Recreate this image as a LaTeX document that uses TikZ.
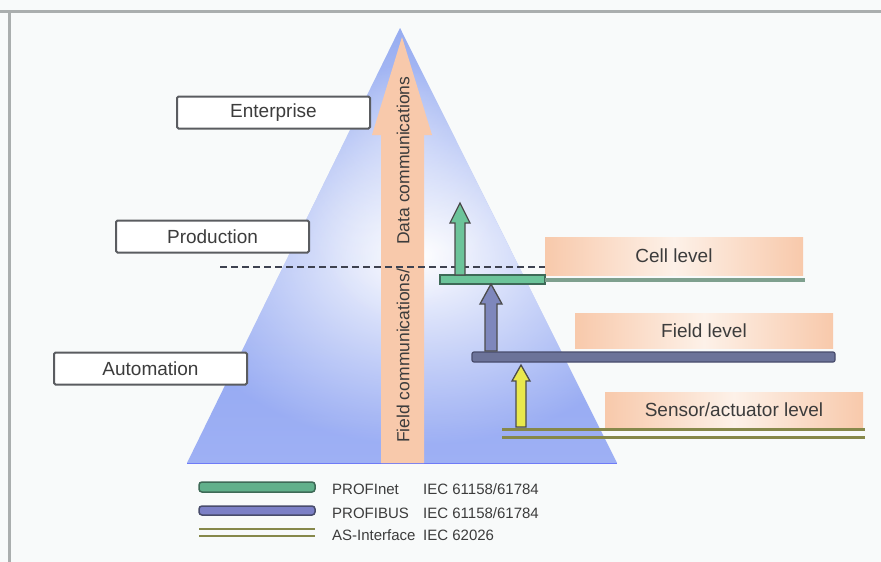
\documentclass[tikz,border=0pt]{standalone}
\usepackage{fontspec}
\setmainfont{Liberation Sans}
\usetikzlibrary{fadings,calc}
\tikzfading[name=glowfade, inner color=transparent!0, outer color=transparent!100]
\definecolor{bgcol}{HTML}{F8FAFA}
\definecolor{bordercol}{HTML}{AAAEAE}
\definecolor{pyrtop}{HTML}{7D98EE}
\definecolor{pyrbot}{HTML}{9EB0F4}
\definecolor{peach}{HTML}{F8C9AB}
\definecolor{peachlight}{HTML}{FDF1E8}
\definecolor{boxgray}{HTML}{5A5C60}
\definecolor{txtgray}{HTML}{3C3C3C}
\definecolor{dashcol}{HTML}{3E4250}
\definecolor{pngreen}{HTML}{6CC49A}
\definecolor{pngreendark}{HTML}{3E6A57}
\definecolor{pnline}{HTML}{7FA08E}
\definecolor{pbblue}{HTML}{6C7399}
\definecolor{pbbluedark}{HTML}{484C6C}
\definecolor{pbarrow}{HTML}{7E87BC}
\definecolor{asolive}{HTML}{86884A}
\definecolor{asyellow}{HTML}{E9E84C}
\definecolor{legpurple}{HTML}{7C80C6}
\newcommand{\blkarrow}[6]{% fill, bottom, top, head length, shaft half, head half
  \draw[arrowedge, fill=#1] ($(#2)+(-#5,0)$) -- ($(#3)+(-#5,#4)$) -- ($(#3)+(-#6,#4)$) -- (#3)
    -- ($(#3)+(#6,#4)$) -- ($(#3)+(#5,#4)$) -- ($(#2)+(#5,0)$) -- cycle;}
\begin{document}
\begin{tikzpicture}[x=1pt,y=-1pt,
  lvlbox/.style={draw=boxgray, line width=2pt, fill=white, rounded corners=1.5pt,
    minimum width=193pt, minimum height=32pt, inner sep=0pt, text=txtgray,
    font=\fontsize{19}{22}\selectfont},
  levelbox/.style={shade, left color=peach, right color=peach, middle color=peachlight,
    minimum width=258pt, inner sep=0pt, text=txtgray, font=\fontsize{19}{22}\selectfont},
  rottext/.style={rotate=90, anchor=west, inner sep=0pt, text=txtgray,
    font=\fontsize{17.5}{20}\selectfont},
  legtext/.style={anchor=west, inner sep=0pt, text=txtgray,
    font=\fontsize{15}{18}\selectfont},
  arrowedge/.style={draw=black!70, line width=1.3pt, line join=miter}
]
\useasboundingbox (0,0) rectangle (881,562);
\fill[bgcol] (0,0) rectangle (881,562);
\draw[bordercol, line width=3pt] (0,11) -- (881,11);
\draw[bordercol, line width=3pt] (9,11) -- (9,562);

% pyramid
\coordinate (apex) at (400,28);
\coordinate (bl) at (187,463);
\coordinate (br) at (617,463);
\begin{scope}
  \clip (apex) -- (bl) -- (br) -- cycle;
  \shade[top color=pyrtop, bottom color=pyrbot] (187,28) rectangle (617,463);
  \fill[white, path fading=glowfade] (420,255) ellipse (260 and 190);
  \fill[white, path fading=glowfade, opacity=0.4] (400,130) ellipse (110 and 200);
\end{scope}
\draw[pyrbot!70!blue, line width=1pt] (bl) -- (br);

% central arrow
\fill[peach] (381,463) -- (381,135) -- (372,135) -- (402,37) -- (432,135) -- (424,135) -- (424,463) -- cycle;
\node[rottext] (fieldcomm) at (403,443) {Field communications/};
\node[rottext] (datacomm) at (403,245) {Data communications};

% left level boxes
\node[lvlbox] (enterprise) at (273.5,112.5) {Enterprise};
\node[lvlbox] (production) at (212.5,236.5) {Production};
\node[lvlbox] (automation) at (150.5,368.5) {Automation};

% right level boxes
\node[levelbox, minimum height=38pt] (cell) at (674,256) {Cell level};
\node[levelbox, minimum height=35pt] (field) at (704,330.5) {Field level};
\node[levelbox, minimum height=36pt] (sensor) at (734,410) {Sensor/actuator level};

% dashed line
\coordinate (dashstart) at (220,267);
\draw[dashcol, line width=2pt, dash pattern=on 7pt off 4pt] (dashstart) -- (dashstart -| cell.west);

% bus lines
\draw[pngreendark, fill=pngreen, line width=1.2pt] (440,275) rectangle (545,284);
\draw[pnline, line width=4pt] (545,280) -- (805,280);
\draw[pbbluedark, fill=pbblue, line width=1.2pt, rounded corners=2pt] (472,352) rectangle (835,362);
\draw[asolive, line width=3pt] (502,429) -- (865,429);
\draw[asolive, line width=3pt] (502,437) -- (865,437);

% block arrows
\coordinate (pnbot) at (460,275);
\coordinate (pntop) at (460,203);
\coordinate (pbbot) at (491,351);
\coordinate (pbtop) at (491,284);
\coordinate (asbot) at (521,427);
\coordinate (astop) at (521,365);
\blkarrow{pngreen}{pnbot}{pntop}{20}{5}{10}
\blkarrow{pbarrow}{pbbot}{pbtop}{20}{6}{11}
\blkarrow{asyellow}{asbot}{astop}{16}{5}{9}

% legend
\draw[pngreendark, fill=pngreen!90!black, line width=1.5pt, rounded corners=3pt] (199,482) rectangle (315,492);
\draw[pbbluedark, fill=legpurple, line width=1.5pt, rounded corners=3pt] (199,506) rectangle (315,515);
\draw[asolive, line width=2.5pt] (199,529) -- (315,529);
\draw[asolive, line width=2.5pt] (199,536) -- (315,536);
\node[legtext] (lpn) at (332,489) {PROFInet};
\node[legtext] (lpnstd) at (423,489) {IEC 61158/61784};
\node[legtext] (lpb) at (332,513) {PROFIBUS};
\node[legtext] (lpbstd) at (423,513) {IEC 61158/61784};
\node[legtext] (las) at (332,535) {AS-Interface};
\node[legtext] (lasstd) at (423,535) {IEC 62026};
\end{tikzpicture}
\end{document}
